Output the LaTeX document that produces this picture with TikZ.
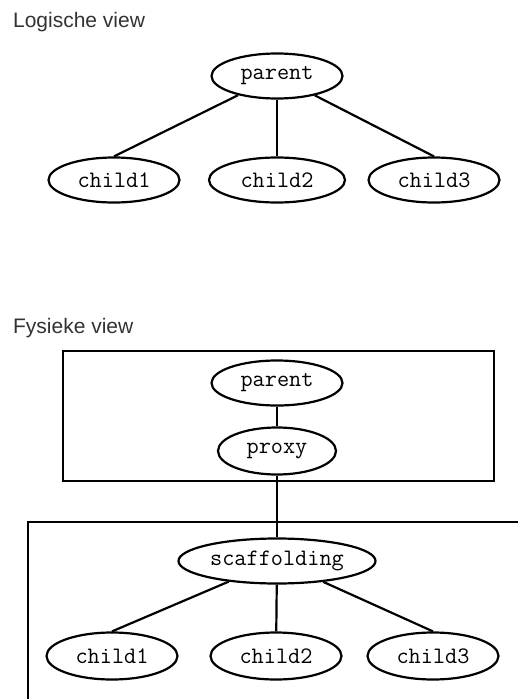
\documentclass[tikz,border=0pt]{standalone}
\usepackage{fontspec}
\setmainfont{Liberation Sans}
\usetikzlibrary{shapes.geometric}
\begin{document}
\begin{tikzpicture}[x=1pt,y=-1pt,line width=2.2pt,
  obj/.style={draw,ellipse,inner sep=0pt,minimum width=131pt,minimum height=45pt,
    font=\ttfamily\fontsize{23.6}{26}\selectfont},
  kop/.style={anchor=base west,inner sep=0pt,text=black!80,font=\fontsize{21}{24}\selectfont}]
 \useasboundingbox (0,0) rectangle (518,699);
 % logische boom
 \node[kop] (logkop) at (12,27) {Logische view};
 \node[obj] (lparent) at (277,76) {parent};
 \node[obj] (lchild1) at (114,180) {child1};
 \node[obj,minimum width=136pt] (lchild2) at (277,180) {child2};
 \node[obj] (lchild3) at (434,180) {child3};
 \draw (lparent) -- (lchild1.north); \draw (lparent) -- (lchild2);
 \draw (lparent) -- (lchild3.north);
 % fysieke boom
 \node[kop] (fyskop) at (12,333) {Fysieke view};
 \draw (63,351) rectangle (494,481);
 \draw (28,701) |- (520,522);
 \node[obj] (fparent) at (277,383) {parent};
 \node[obj,minimum width=118pt,minimum height=47pt] (proxy) at (277,451) {proxy};
 \node[obj,minimum width=197pt] (scaf) at (277,561) {scaffolding};
 \node[obj,minimum height=47pt] (fchild1) at (112,656) {child1};
 \node[obj,minimum height=47pt] (fchild2) at (276,656) {child2};
 \node[obj,minimum height=47pt] (fchild3) at (433,656) {child3};
 \draw (fparent) -- (proxy); \draw (proxy) -- (scaf);
 \draw (scaf) -- (fchild1.north); \draw (scaf) -- (fchild2);
 \draw (scaf) -- (fchild3.north);
\end{tikzpicture}
\end{document}
